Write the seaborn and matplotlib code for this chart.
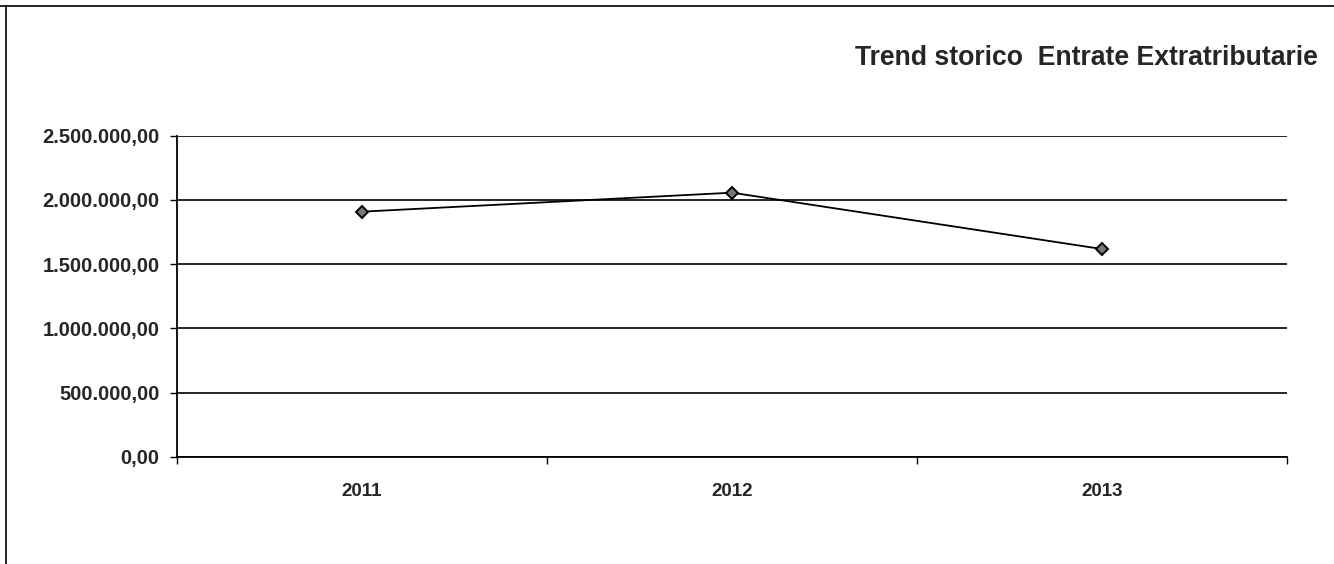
import matplotlib.pyplot as plt
import pandas as pd
import seaborn as sns
from matplotlib.lines import Line2D
from matplotlib.ticker import FuncFormatter, MultipleLocator

anni = ["2011", "2012", "2013"]
entrate = [1909000, 2057000, 1618000]
titolo = "Trend storico  Entrate Extratributarie"


def formato_it(v, pos):
    s = f"{v:,.2f}"
    return s.replace(",", "X").replace(".", ",").replace("X", ".")


if __name__ == "__main__":
    sns.set_style("white")
    plt.rcParams["font.family"] = ["Liberation Sans", "DejaVu Sans"]

    df = pd.DataFrame({"anno": anni, "valore": entrate})

    fig = plt.figure(figsize=(13.34, 5.64), dpi=100)
    ax = fig.add_axes([0.1327, 0.1902, 0.9648 - 0.1327, 0.7592 - 0.1902])

    sns.lineplot(
        data=df,
        x="anno",
        y="valore",
        ax=ax,
        color="black",
        linewidth=1.3,
        marker="D",
        markersize=6.5,
        markerfacecolor="#777777",
        markeredgecolor="black",
        markeredgewidth=1.4,
    )

    ax.set_ylim(0, 2500000)
    ax.set_xlim(-0.5, 2.5)
    ax.yaxis.set_major_locator(MultipleLocator(500000))
    ax.yaxis.set_major_formatter(FuncFormatter(formato_it))
    ax.grid(True, axis="y", color="black", linewidth=1.2)
    ax.set_axisbelow(True)

    # tacche tra le categorie, stile Excel
    ax.set_xticks([0, 1, 2])
    ax.set_xticks([-0.5, 0.5, 1.5, 2.5], minor=True)
    ax.tick_params(axis="x", which="major", length=0, pad=19, labelsize=13.5)
    ax.tick_params(axis="x", which="minor", length=5, width=1, color="black", direction="out")
    ax.tick_params(axis="y", length=5, width=1, color="black", direction="out", labelsize=14.5, pad=7.5)
    ax.tick_params(axis="both", bottom=True, left=True, which="both")
    for lab in ax.get_xticklabels() + ax.get_yticklabels():
        lab.set_fontweight("bold")

    for lato in ["top", "right"]:
        ax.spines[lato].set_visible(False)
    for lato in ["left", "bottom"]:
        ax.spines[lato].set_color("black")
        ax.spines[lato].set_linewidth(1.3)

    ax.set_xlabel("")
    ax.set_ylabel("")

    fig.text(1318 / 1334, 1 - 58 / 564, titolo, ha="right", va="center",
             fontsize=19.2, fontweight="bold")

    # cornice del foglio
    fig.add_artist(Line2D([0, 1], [1 - 6 / 564, 1 - 6 / 564], color="black", linewidth=1.2))
    fig.add_artist(Line2D([5.5 / 1334, 5.5 / 1334], [0, 1 - 6 / 564], color="black", linewidth=1.2))

    plt.savefig("out.png", dpi=100)
